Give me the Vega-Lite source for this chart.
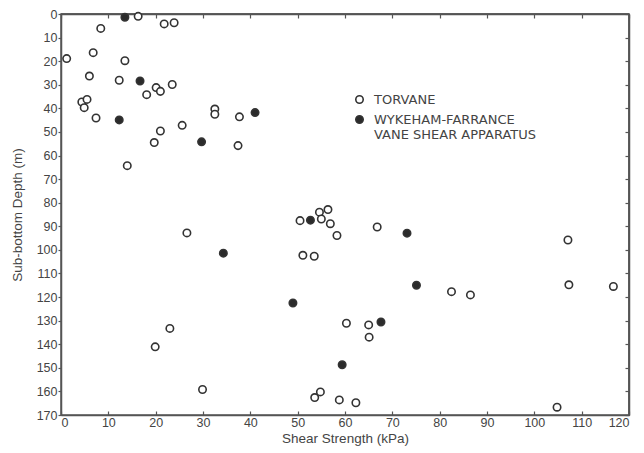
{
  "$schema": "https://vega.github.io/schema/vega-lite/v6.json",
  "autosize": "none",
  "width": 568,
  "height": 401,
  "padding": {"left": 61, "top": 14, "right": 15, "bottom": 38},
  "background": "white",
  "view": {"stroke": "#555", "strokeWidth": 1.5},
  "config": {
    "font": "Liberation Sans",
    "axis": {
      "domainColor": "#555",
      "domainWidth": 1.5,
      "tickColor": "#555",
      "tickWidth": 1.2,
      "tickSize": 4,
      "grid": false,
      "labelColor": "#444",
      "labelFontSize": 12.5,
      "titleColor": "#444",
      "titleFontSize": 13.5,
      "titleFontWeight": "normal"
    }
  },
  "datasets": {
    "frame_top": [{"d": 0}],
    "frame_right": [{"s": 120}],
    "points": [
      {"s": 16.3, "d": 1, "m": "TORVANE"},
      {"s": 21.8, "d": 4.2, "m": "TORVANE"},
      {"s": 23.9, "d": 3.7, "m": "TORVANE"},
      {"s": 8.4, "d": 6.1, "m": "TORVANE"},
      {"s": 1.2, "d": 18.9, "m": "TORVANE"},
      {"s": 6.8, "d": 16.4, "m": "TORVANE"},
      {"s": 13.5, "d": 19.8, "m": "TORVANE"},
      {"s": 6.0, "d": 26.3, "m": "TORVANE"},
      {"s": 12.3, "d": 28.1, "m": "TORVANE"},
      {"s": 20.1, "d": 31.2, "m": "TORVANE"},
      {"s": 21.0, "d": 32.8, "m": "TORVANE"},
      {"s": 23.5, "d": 29.9, "m": "TORVANE"},
      {"s": 18.1, "d": 34.2, "m": "TORVANE"},
      {"s": 4.4, "d": 37.3, "m": "TORVANE"},
      {"s": 5.5, "d": 36.2, "m": "TORVANE"},
      {"s": 4.9, "d": 39.7, "m": "TORVANE"},
      {"s": 7.4, "d": 44.1, "m": "TORVANE"},
      {"s": 21.0, "d": 49.6, "m": "TORVANE"},
      {"s": 25.6, "d": 47.2, "m": "TORVANE"},
      {"s": 19.7, "d": 54.5, "m": "TORVANE"},
      {"s": 32.5, "d": 40.3, "m": "TORVANE"},
      {"s": 32.5, "d": 42.5, "m": "TORVANE"},
      {"s": 37.7, "d": 43.6, "m": "TORVANE"},
      {"s": 37.4, "d": 55.8, "m": "TORVANE"},
      {"s": 14.0, "d": 64.3, "m": "TORVANE"},
      {"s": 26.6, "d": 92.8, "m": "TORVANE"},
      {"s": 23.0, "d": 133.3, "m": "TORVANE"},
      {"s": 19.9, "d": 141.1, "m": "TORVANE"},
      {"s": 29.9, "d": 159.2, "m": "TORVANE"},
      {"s": 50.5, "d": 87.6, "m": "TORVANE"},
      {"s": 54.6, "d": 84.0, "m": "TORVANE"},
      {"s": 56.4, "d": 82.9, "m": "TORVANE"},
      {"s": 55.0, "d": 86.9, "m": "TORVANE"},
      {"s": 56.9, "d": 88.9, "m": "TORVANE"},
      {"s": 58.3, "d": 93.9, "m": "TORVANE"},
      {"s": 66.8, "d": 90.3, "m": "TORVANE"},
      {"s": 51.1, "d": 102.3, "m": "TORVANE"},
      {"s": 53.5, "d": 102.7, "m": "TORVANE"},
      {"s": 60.3, "d": 131.1, "m": "TORVANE"},
      {"s": 65.0, "d": 131.8, "m": "TORVANE"},
      {"s": 65.1, "d": 137.0, "m": "TORVANE"},
      {"s": 54.8, "d": 160.2, "m": "TORVANE"},
      {"s": 53.6, "d": 162.6, "m": "TORVANE"},
      {"s": 58.8, "d": 163.6, "m": "TORVANE"},
      {"s": 62.3, "d": 164.8, "m": "TORVANE"},
      {"s": 82.5, "d": 117.7, "m": "TORVANE"},
      {"s": 86.5, "d": 119.1, "m": "TORVANE"},
      {"s": 107.1, "d": 95.8, "m": "TORVANE"},
      {"s": 107.3, "d": 114.8, "m": "TORVANE"},
      {"s": 116.7, "d": 115.5, "m": "TORVANE"},
      {"s": 104.8, "d": 166.7, "m": "TORVANE"},
      {"s": 13.5, "d": 1.4, "m": "WYKEHAM"},
      {"s": 16.7, "d": 28.4, "m": "WYKEHAM"},
      {"s": 12.3, "d": 44.9, "m": "WYKEHAM"},
      {"s": 29.7, "d": 54.2, "m": "WYKEHAM"},
      {"s": 41.0, "d": 41.8, "m": "WYKEHAM"},
      {"s": 34.3, "d": 101.4, "m": "WYKEHAM"},
      {"s": 52.7, "d": 87.4, "m": "WYKEHAM"},
      {"s": 73.1, "d": 92.9, "m": "WYKEHAM"},
      {"s": 75.1, "d": 115.0, "m": "WYKEHAM"},
      {"s": 49.0, "d": 122.5, "m": "WYKEHAM"},
      {"s": 67.6, "d": 130.6, "m": "WYKEHAM"},
      {"s": 59.4, "d": 148.7, "m": "WYKEHAM"}
    ]
  },
  "layer": [
    {
      "data": {"name": "frame_top"},
      "mark": {"type": "rule", "color": "#555", "strokeWidth": 1.5},
      "encoding": {
        "y": {"field": "d", "type": "quantitative", "scale": {"domain": [0, 170], "nice": false, "zero": false, "reverse": true}, "axis": {"orient": "right", "values": [0, 10, 20, 30, 40, 50, 60, 70, 80, 90, 100, 110, 120, 130, 140, 150, 160, 170], "labels": false, "tickSize": -4, "title": null}}
      }
    },
    {
      "data": {"name": "frame_right"},
      "mark": {"type": "rule", "color": "#555", "strokeWidth": 1.5},
      "encoding": {
        "x": {"field": "s", "type": "quantitative", "scale": {"domain": [0, 120], "nice": false, "zero": false}, "axis": {"orient": "top", "values": [0, 10, 20, 30, 40, 50, 60, 70, 80, 90, 100, 110, 120], "labels": false, "tickSize": -4, "title": null}}
      }
    },
    {
      "data": {"name": "points"},
      "mark": {"type": "point", "filled": true, "shape": "circle", "size": 55, "stroke": "#333", "strokeWidth": 1.6, "opacity": 1},
      "encoding": {
        "x": {
          "field": "s", "type": "quantitative",
          "scale": {"domain": [0, 120], "nice": false, "zero": false},
          "axis": {"orient": "bottom", "values": [0, 10, 20, 30, 40, 50, 60, 70, 80, 90, 100, 110, 120], "tickSize": -4, "labelPadding": 5, "title": "Shear Strength (kPa)", "titlePadding": 3}
        },
        "y": {
          "field": "d", "type": "quantitative",
          "scale": {"domain": [0, 170], "nice": false, "zero": false, "reverse": true},
          "axis": {"orient": "left", "values": [0, 10, 20, 30, 40, 50, 60, 70, 80, 90, 100, 110, 120, 130, 140, 150, 160, 170], "tickSize": 3, "labelPadding": 1, "title": "Sub-bottom Depth (m)", "titlePadding": 12}
        },
        "fill": {
          "field": "m", "type": "nominal",
          "scale": {"domain": ["TORVANE", "WYKEHAM"], "range": ["white", "#2b2b2b"]},
          "legend": {
            "orient": "none", "legendX": 292, "legendY": 79, "title": null,
            "symbolType": "circle", "symbolSize": 55, "symbolStrokeColor": "#333", "symbolStrokeWidth": 1.6,
            "labelFont": "DejaVu Sans", "labelFontSize": 13, "labelColor": "#444", "rowPadding": 5, "labelOffset": 8, "labelLimit": 400,
            "labelExpr": "datum.value == 'WYKEHAM' ? ['WYKEHAM-FARRANCE', 'VANE SHEAR APPARATUS'] : 'TORVANE'"
          }
        }
      }
    }
  ],
  "resolve": {"axis": {"x": "independent", "y": "independent"}}
}
